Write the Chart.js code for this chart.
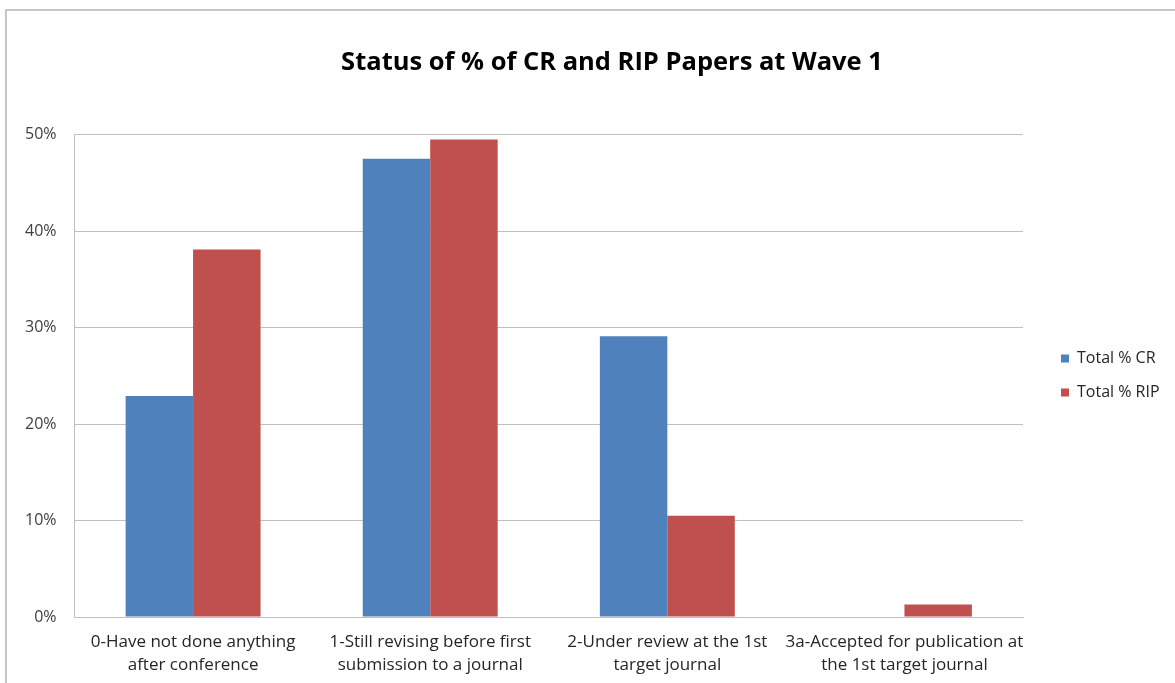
<!DOCTYPE html>
<html>
<head>
<meta charset="utf-8">
<script src="https://cdn.jsdelivr.net/npm/chart.js@4/dist/chart.umd.min.js"></script>
<style>
  html, body { margin: 0; padding: 0; background: #ffffff; overflow: hidden; }
  #frame {
    position: absolute; left: 5px; top: 9px; width: 2000px; height: 2000px;
    border-left: 2px solid #c6c6c6; border-top: 2px solid #c6c6c6;
  }
  #wrap { position: absolute; left: 0; top: 0; width: 1175px; height: 683px; }
</style>
</head>
<body>
<div id="frame"></div>
<div id="wrap"><canvas id="chart" width="1175" height="683"></canvas></div>
<script>
// Paper status categories (multi-line axis labels)
const categories = [
  ['0-Have not done anything', 'after conference'],
  ['1-Still revising before first', 'submission to a journal'],
  ['2-Under review at the 1st', 'target journal'],
  ['3a-Accepted for publication at', 'the 1st target journal']
];

// Percent of papers in each status
const totalCR  = [22.9, 47.5, 29.1, 0];
const totalRIP = [38.1, 49.5, 10.5, 1.3];

const seriesNames = ['Total % CR', 'Total % RIP'];
const yTicks = [0, 10, 20, 30, 40, 50];

const FONT = "'Open Sans', 'DejaVu Sans', sans-serif";
const GRID = '#c0c0c0';

// Fixed-width legend column beside the plot, nudged into place; title centred on the frame
const placement = {
  id: 'placement',
  beforeLayout(chart) {
    const lg = chart.legend;
    if (lg && !lg._fixedFit) {
      const baseFit = lg.fit.bind(lg);
      lg.fit = function () { baseFit(); if (!this.isHorizontal()) this.width = 152; };
      lg._fixedFit = true;
    }
  },
  afterLayout(chart) {
    const lg = chart.legend;
    if (lg) { lg.left += 20; lg.right += 20; lg.top += 36; lg.bottom += 36; }
    const tb = chart.titleBlock;
    if (tb) { tb.left += 21; tb.right += 21; }
  }
};

new Chart(document.getElementById('chart'), {
  type: 'bar',
  data: {
    labels: categories,
    datasets: [
      { label: seriesNames[0], data: totalCR,  backgroundColor: '#4F81BD', borderWidth: 0 },
      { label: seriesNames[1], data: totalRIP, backgroundColor: '#C0504D', borderWidth: 0 }
    ]
  },
  options: {
    responsive: false,
    animation: false,
    layout: { padding: { left: 7, right: 0, top: 0, bottom: 4 } },
    datasets: { bar: { categoryPercentage: 0.569, barPercentage: 1.0 } },
    plugins: {
      title: {
        display: true,
        text: 'Status of % of CR and RIP Papers at Wave 1',
        color: '#000000',
        font: { family: FONT, size: 25.5, weight: 'bold' },
        padding: { top: 47, bottom: 57 }
      },
      legend: {
        position: 'right',
        align: 'center',
        labels: {
          boxWidth: 8, boxHeight: 8, padding: 18,
          color: '#262626',
          font: { family: FONT, size: 16 }
        }
      },
      tooltip: { enabled: false }
    },
    scales: {
      x: {
        afterFit(scale) { scale.height = 62; },
        grid: { display: false, drawTicks: false },
        border: { display: true, color: GRID, width: 1 },
        ticks: {
          color: '#262626', padding: 14, maxRotation: 0, autoSkip: false,
          font: { family: FONT, size: 17, lineHeight: 1.35 }
        }
      },
      y: {
        min: 0, max: 50,
        afterBuildTicks(scale) { scale.ticks = yTicks.map(v => ({ value: v })); },
        grid: { color: GRID, lineWidth: 1, drawTicks: false },
        border: { display: true, color: GRID, width: 1 },
        ticks: {
          color: '#404040', padding: 18,
          font: { family: FONT, size: 16 },
          callback: v => v + '%'
        }
      }
    }
  },
  plugins: [placement]
});
</script>
</body>
</html>
